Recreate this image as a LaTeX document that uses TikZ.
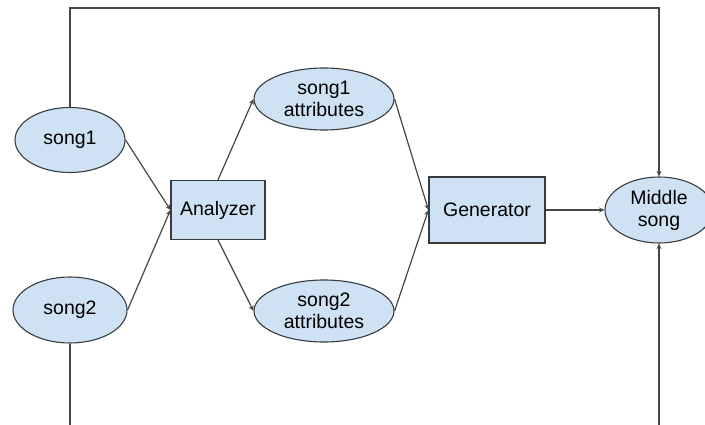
\documentclass[tikz,border=0pt]{standalone}
\usepackage{fontspec}
\setmainfont{Liberation Sans}
\usetikzlibrary{shapes.geometric, arrows.meta, positioning, calc}
\definecolor{paleblue}{RGB}{207, 226, 243}
\definecolor{rimgrey}{RGB}{55, 60, 65}
\definecolor{wiregrey}{RGB}{70, 70, 70}

\begin{document}
\begin{tikzpicture}[x=1pt, y=-1pt,
    blob/.style={ellipse, draw=rimgrey, fill=paleblue, line width=1.1pt, inner sep=0pt,
        align=center, font=\fontsize{19.5}{22}\selectfont},
    block/.style={rectangle, draw=rimgrey, fill=paleblue, line width=1.1pt, inner sep=0pt,
        font=\fontsize{19.5}{22}\selectfont},
    wire/.style={wiregrey, line width=1.2pt, -{Stealth[length=5.5pt, width=5pt]}},
    feed/.style={wiregrey, line width=1.2pt}]
        \useasboundingbox (0,0) rectangle (705,425);
        \clip (0,0) rectangle (705,425);

        % Inputs
        \node[blob, minimum width=110pt, minimum height=65pt] (song1) at (70,140) {song1};
        \node[blob, minimum width=114pt, minimum height=66pt] (song2) at (70,310) {song2};

        % Analyzer
        \node[block, minimum width=94pt, minimum height=59pt] (analyzer) at (218,210) {Analyzer};

        % Attributes
        \node[blob, minimum width=140pt, minimum height=62pt] (attr1) at (324,99) {song1\\attributes};
        \node[blob, minimum width=140pt, minimum height=62pt] (attr2) at (324,311) {song2\\attributes};

        % Generator
        \node[block, minimum width=116pt, minimum height=66pt] (generator) at (487,210) {Generator};

        % Output
        \node[blob, minimum width=108pt, minimum height=66pt] (middle) at (659,210) {Middle\\song};

        % Flow
        \draw[wire] (song1.east) -- (analyzer.west);
        \draw[wire] (song2.east) -- (analyzer.west);
        \draw[wire] (analyzer.north) -- (attr1.west);
        \draw[wire] (analyzer.south) -- (attr2.west);
        \draw[wire] (attr1.east) -- (generator.west);
        \draw[wire] (attr2.east) -- (generator.west);
        \draw[wire] (generator.east) -- (middle.west);

        % Bypass lines
        \draw[wire] (song1.north) |- (659,8) -- (middle.north);
        \coordinate (lowleft) at (70,430);
        \coordinate (lowright) at (659,430);
        \draw[feed] (song2.south) -- (lowleft);
        \draw[wire] (lowright) -- (middle.south);
    \end{tikzpicture}
\end{document}
